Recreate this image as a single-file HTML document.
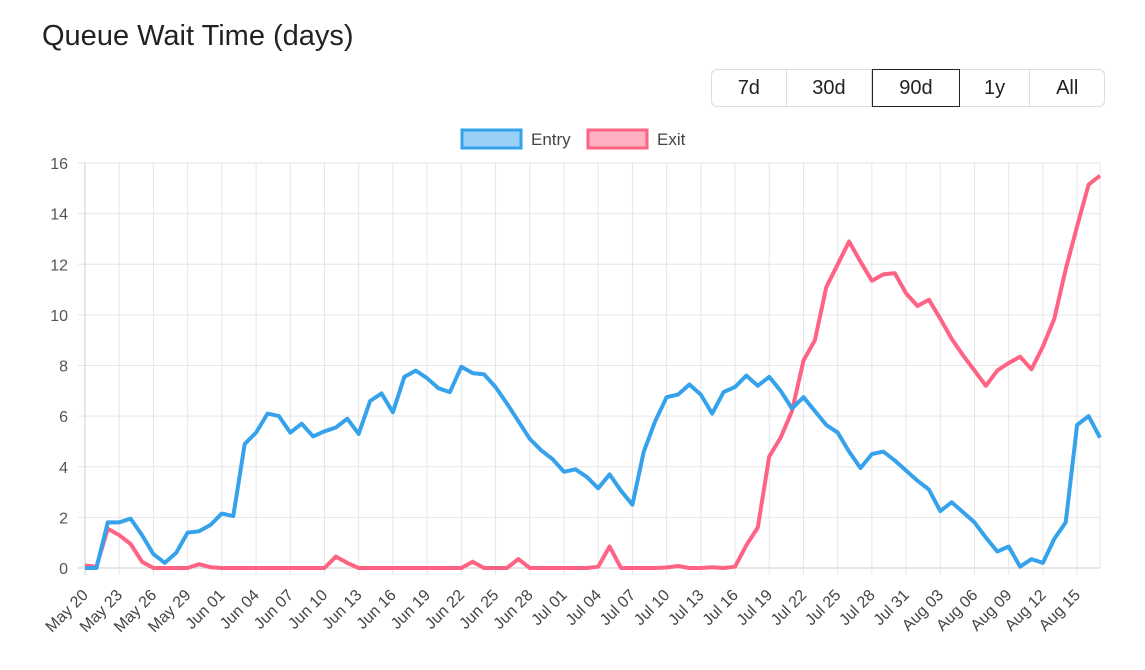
<!DOCTYPE html>
<html><head><meta charset="utf-8"><style>
body{margin:0;background:#fff;width:1145px;height:670px;overflow:hidden;font-family:"Liberation Sans",sans-serif;}
.t{position:absolute;left:42px;top:20px;font-size:29px;color:#222;}
.g{position:absolute;left:711px;top:69px;width:394px;height:38px;border:1px solid #dcdcdc;border-radius:6px;display:flex;box-sizing:border-box;}
.g div{display:flex;align-items:center;justify-content:center;font-size:20px;color:#222;border-right:1px solid #dcdcdc;box-sizing:border-box;height:36px}
.g div:last-child{border-right:none}
.g .a{border:1.5px solid #222;margin-top:-1px;height:38px}
</style></head><body>
<div class="t">Queue Wait Time (days)</div>
<div class="g"><div style="width:75px">7d</div><div style="width:86px">30d</div><div class="a" style="width:88px">90d</div><div style="width:71px">1y</div><div style="width:74px">All</div></div>
<svg id="s" width="1145" height="670" style="position:absolute;left:0;top:0"></svg>
<script>
var E=[0,0,1.8,1.8,1.95,1.3,0.55,0.2,0.6,1.4,1.45,1.7,2.15,2.05,4.9,5.35,6.1,6.0,5.35,5.7,5.2,5.4,5.55,5.9,5.3,6.6,6.9,6.15,7.55,7.8,7.5,7.1,6.95,7.95,7.7,7.65,7.15,6.5,5.8,5.1,4.65,4.3,3.8,3.9,3.6,3.15,3.7,3.05,2.5,4.6,5.8,6.75,6.85,7.25,6.85,6.1,6.95,7.15,7.6,7.2,7.55,7.0,6.3,6.75,6.2,5.65,5.35,4.6,3.95,4.5,4.6,4.25,3.85,3.45,3.1,2.25,2.6,2.2,1.8,1.2,0.65,0.85,0.05,0.35,0.2,1.15,1.8,5.65,6.0,5.15];
var X=[0.1,0.05,1.55,1.3,0.95,0.25,0,0,0,0,0.15,0.03,0,0,0,0,0,0,0,0,0,0,0.45,0.2,0,0,0,0,0,0,0,0,0,0,0.25,0,0,0,0.35,0,0,0,0,0,0,0.05,0.85,0,0,0,0,0.02,0.08,0,0,0.03,0,0.05,0.9,1.6,4.4,5.15,6.2,8.2,9.0,11.1,12.0,12.9,12.1,11.35,11.6,11.65,10.85,10.35,10.6,9.85,9.05,8.4,7.8,7.2,7.8,8.1,8.35,7.85,8.75,9.85,11.8,13.5,15.15,15.5];
var x0=85,dx=11.404,y0=568,dy=25.31,h='';
var mon=['May','Jun','Jul','Aug'],ml=[31,30,31,31];
for(var v=0;v<=16;v+=2){var y=y0-v*dy;h+='<line x1="78" x2="1100" y1="'+y+'" y2="'+y+'" stroke="'+(v?'#e6e6e6':'#ccc')+'"/><text x="68" y="'+(y+6)+'" text-anchor="end" font-size="16" fill="#555">'+v+'</text>';}
for(var i=0;i<90;i+=3){var x=x0+i*dx;var d=20+i,m=0;while(d>ml[m]){d-=ml[m];m++;}var lb=mon[m]+' '+(d<10?'0':'')+d;
h+='<line x1="'+x+'" x2="'+x+'" y1="163" y2="575" stroke="'+(i?'#e6e6e6':'#ccc')+'"/><text transform="translate('+(x+4)+',596) rotate(-45)" text-anchor="end" font-size="16" fill="#444">'+lb+'</text>';}
h+='<line x1="1100" x2="1100" y1="163" y2="568" stroke="#e6e6e6"/>';
function p(a,c){var s='';for(var i=0;i<a.length;i++)s+=(x0+i*dx).toFixed(1)+','+(y0-a[i]*dy).toFixed(1)+' ';return '<polyline points="'+s+'" fill="none" stroke="'+c+'" stroke-width="4" stroke-linejoin="round"/>';}
h+=p(X,'#ff6384')+p(E,'#36a2eb');
h+='<rect x="462" y="130" width="59" height="18" fill="#9ad0f5" stroke="#36a2eb" stroke-width="3"/><text x="531" y="145" font-size="17" fill="#444">Entry</text>';
h+='<rect x="588" y="130" width="59" height="18" fill="#ffb1c1" stroke="#ff6384" stroke-width="3"/><text x="657" y="145" font-size="17" fill="#444">Exit</text>';
document.getElementById('s').innerHTML=h;
</script>
</body></html>
